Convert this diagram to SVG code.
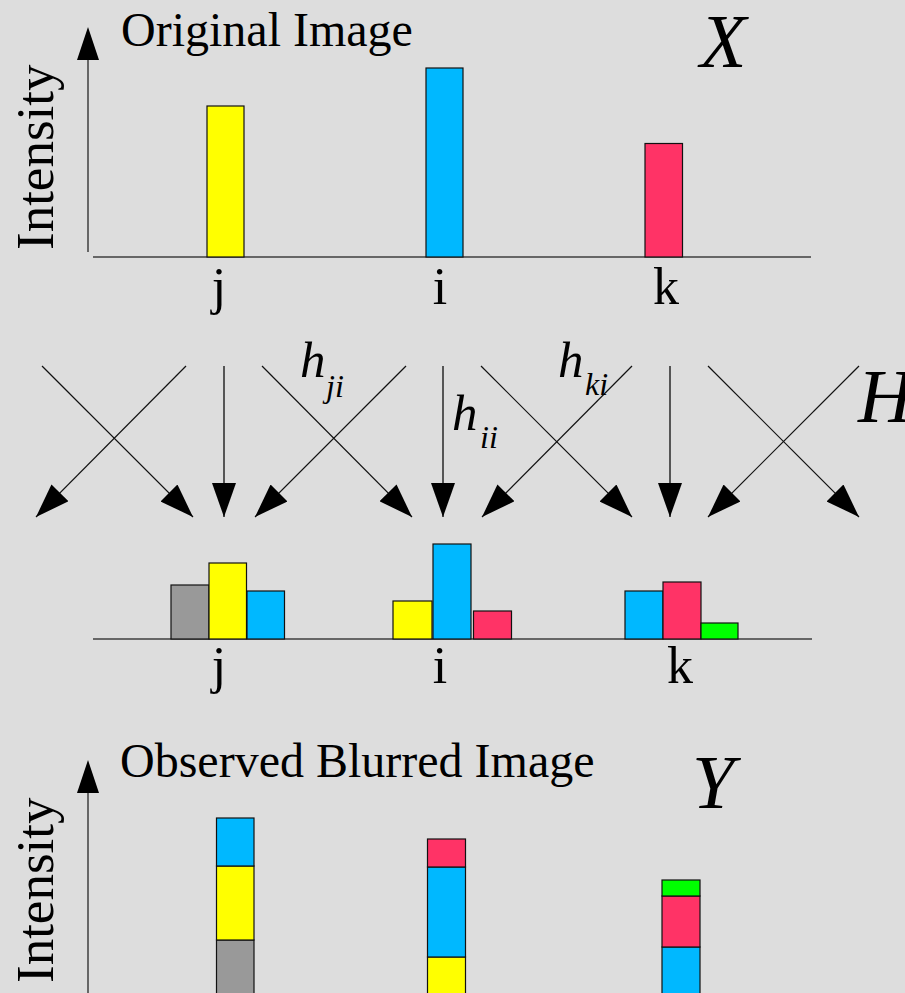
<svg xmlns="http://www.w3.org/2000/svg" width="905" height="993" viewBox="0 0 905 993">
  <defs>
    <marker id="head" viewBox="0 0 34 24" markerWidth="34" markerHeight="24" refX="34" refY="12" orient="auto" markerUnits="userSpaceOnUse">
      <path d="M0,0 L34,12 L0,24 Z" fill="#000"/>
    </marker>
  </defs>
  <style>
    text { font-family: 'Liberation Serif', 'Times New Roman', Times, 'Nimbus Roman', FreeSerif, 'Noto Serif', 'DejaVu Serif', serif; fill: #000; }
    .it { font-style: italic; }
    .axis { stroke: #666; stroke-width: 2; fill: none; }
    .bar { stroke: #111; stroke-width: 1.2; }
    .y { fill: #ffff00; }
    .b { fill: #00b8ff; }
    .r { fill: #ff3366; }
    .g { fill: #999999; }
    .gr { fill: #00ff00; }
    .diag { stroke: #111; stroke-width: 1.2; fill: none; }
    .vert { stroke: #555; stroke-width: 2; fill: none; }
  </style>
  <rect width="905" height="993" fill="#dddddd"/>

  <!-- original signal X -->
  <g id="original">
    <line class="axis" x1="88" y1="252" x2="88" y2="60"/>
    <path d="M77,60 L88,27 L99,60 Z" fill="#000"/>
    <line class="axis" x1="93" y1="257" x2="811" y2="257"/>
    <text x="53" y="250" font-size="53" transform="rotate(-90 53 250)">Intensity</text>
    <text x="121" y="46" font-size="48">Original Image</text>
    <text class="it" x="700" y="67" font-size="76">X</text>
    <rect class="bar y" x="207" y="106" width="37" height="151"/>
    <rect class="bar b" x="426" y="68" width="37" height="189"/>
    <rect class="bar r" x="645" y="143.5" width="37.5" height="113.5"/>
    <text x="219" y="304" font-size="52" text-anchor="middle">j</text>
    <text x="440" y="304" font-size="52" text-anchor="middle">i</text>
    <text x="666" y="304" font-size="52" text-anchor="middle">k</text>
  </g>

  <!-- blur operator H -->
  <g id="connectors">
    <line class="diag" x1="42" y1="366" x2="193" y2="517" marker-end="url(#head)"/>
    <line class="diag" x1="186" y1="366" x2="36" y2="517" marker-end="url(#head)"/>
    <line class="vert" x1="224" y1="366" x2="224" y2="517" marker-end="url(#head)"/>
    <line class="diag" x1="262" y1="366" x2="412" y2="517" marker-end="url(#head)"/>
    <line class="diag" x1="406" y1="366" x2="255" y2="517" marker-end="url(#head)"/>
    <line class="vert" x1="443" y1="366" x2="443" y2="517" marker-end="url(#head)"/>
    <line class="diag" x1="481" y1="366" x2="632" y2="517" marker-end="url(#head)"/>
    <line class="diag" x1="632" y1="366" x2="482" y2="517" marker-end="url(#head)"/>
    <line class="vert" x1="670" y1="366" x2="670" y2="517" marker-end="url(#head)"/>
    <line class="diag" x1="708" y1="366" x2="859" y2="517" marker-end="url(#head)"/>
    <line class="diag" x1="859" y1="366" x2="708" y2="517" marker-end="url(#head)"/>
  </g>
  <g id="weights">
    <text class="it" x="300" y="377" font-size="51">h</text>
    <text class="it" x="326" y="397" font-size="32">ji</text>
    <text class="it" x="452" y="430" font-size="51">h</text>
    <text class="it" x="480" y="448" font-size="32">ii</text>
    <text class="it" x="558" y="377" font-size="51">h</text>
    <text class="it" x="585" y="395" font-size="32">ki</text>
    <text class="it" x="858" y="422" font-size="76">H</text>
  </g>

  <!-- weighted contributions -->
  <g id="contributions">
    <line class="axis" x1="93" y1="639" x2="812" y2="639"/>
    <rect class="bar g" x="171" y="585" width="38" height="54"/>
    <rect class="bar y" x="209" y="563" width="37.5" height="76"/>
    <rect class="bar b" x="247" y="591" width="37.5" height="48"/>
    <rect class="bar y" x="393" y="601" width="39" height="38"/>
    <rect class="bar b" x="433" y="544" width="38" height="95"/>
    <rect class="bar r" x="473.5" y="611" width="38" height="28"/>
    <rect class="bar b" x="625" y="591" width="38" height="48"/>
    <rect class="bar r" x="663" y="582" width="38" height="57"/>
    <rect class="bar gr" x="701" y="623" width="37" height="16"/>
    <text x="219" y="683" font-size="52" text-anchor="middle">j</text>
    <text x="440" y="683" font-size="52" text-anchor="middle">i</text>
    <text x="680" y="683" font-size="52" text-anchor="middle">k</text>
  </g>

  <!-- observed signal Y -->
  <g id="observed">
    <line class="axis" x1="88" y1="793" x2="88" y2="993"/>
    <path d="M77,793 L88,760 L99,793 Z" fill="#000"/>
    <text x="53" y="983" font-size="53" transform="rotate(-90 53 983)">Intensity</text>
    <text x="120" y="777" font-size="48">Observed Blurred Image</text>
    <text class="it" x="692" y="808" font-size="76">Y</text>
    <rect class="bar g" x="216.5" y="940" width="37.5" height="60"/>
    <rect class="bar y" x="216.5" y="866" width="37.5" height="74"/>
    <rect class="bar b" x="216.5" y="818" width="37.5" height="48"/>
    <rect class="bar y" x="427.5" y="957" width="38" height="43"/>
    <rect class="bar b" x="427.5" y="867" width="38" height="90"/>
    <rect class="bar r" x="427.5" y="839" width="38" height="28"/>
    <rect class="bar b" x="662" y="947" width="38" height="53"/>
    <rect class="bar r" x="662" y="896" width="38" height="51"/>
    <rect class="bar gr" x="662" y="880" width="38" height="16"/>
  </g>
</svg>
